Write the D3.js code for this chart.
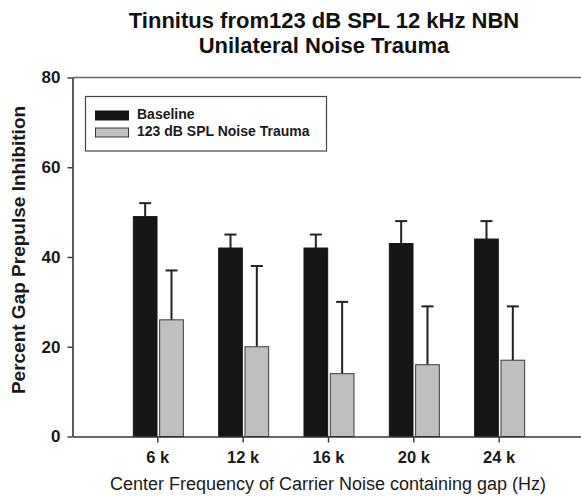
<!DOCTYPE html>
<html><head><meta charset="utf-8">
<script src="https://cdn.jsdelivr.net/npm/d3@7"></script>
<style>
html,body{margin:0;padding:0;background:#fff;}
svg{display:block;font-family:"Liberation Sans",Arial,sans-serif;}
</style></head>
<body><svg id="c" width="581" height="498"></svg>
<script>
const categories = ["6 k","12 k","16 k","20 k","24 k"];
const seriesNames = ["Baseline","123 dB SPL Noise Trauma"];
const baselineMean = [49,42,42,43,44];
const baselineErr  = [52,45,45,48,48];
const traumaMean   = [26,20,14,16,17];
const traumaErr    = [37,38,30,29,29];
const yTicks = [0,20,40,60,80];
const titleLines = ["Tinnitus from123 dB SPL 12 kHz NBN","Unilateral Noise Trauma"];
const xLabel = "Center Frequency of Carrier Noise containing gap (Hz)";
const yLabel = "Percent Gap Prepulse Inhibition";

(function(){
const series = [
  {name: seriesNames[0], mean: baselineMean, err: baselineErr, fill:"#161616", stroke:"#161616"},
  {name: seriesNames[1], mean: traumaMean, err: traumaErr, fill:"#bfbfbf", stroke:"#3a3a3a"}
];

const svg = d3.select("#c");
const mLeft = 72.5, mTop = 77.5, mBottom = 436.5;
const x = d3.scaleBand().domain(categories).range([mLeft, mLeft + 85.33*6]).paddingInner(0).paddingOuter(0.5);
const x1 = d3.scaleBand().domain(seriesNames).range([-24.5, 25.5]).paddingInner(0.1);
const y = d3.scaleLinear().domain([0,80]).range([mBottom, mTop]);

// top frame line
svg.append("line").attr("x1", mLeft).attr("x2", 581).attr("y1", mTop).attr("y2", mTop)
  .attr("stroke","#666").attr("stroke-width",1.6);

// bars
series.forEach(s => {
  const g = svg.append("g");
  categories.forEach((c,i) => {
    const cx = x(c) + x.bandwidth()/2;
    const bx = cx + x1(s.name);
    const bw = x1.bandwidth();
    const ex = bx + bw/2;
    g.append("line").attr("x1",ex).attr("x2",ex).attr("y1",y(s.mean[i])).attr("y2",y(s.err[i]))
      .attr("stroke","#222").attr("stroke-width",2);
    g.append("line").attr("x1",ex-6).attr("x2",ex+6).attr("y1",y(s.err[i])).attr("y2",y(s.err[i]))
      .attr("stroke","#222").attr("stroke-width",2);
    g.append("rect").attr("x",bx).attr("y",y(s.mean[i])).attr("width",bw).attr("height",y(0)-y(s.mean[i]))
      .attr("fill",s.fill).attr("stroke",s.stroke).attr("stroke-width",1);
  });
});

// axes
const yAxis = svg.append("g").attr("transform",`translate(${mLeft},0)`)
  .call(d3.axisLeft(y).tickValues(yTicks).tickSize(5).tickPadding(7).tickSizeOuter(0));
yAxis.select(".domain").attr("stroke","#333").attr("stroke-width",1.6);
yAxis.selectAll(".tick line").attr("stroke","#333").attr("stroke-width",1.4);
yAxis.selectAll("text").attr("font-size",17).attr("font-weight","bold").attr("fill","#1a1a1a")
  .attr("font-family","'Liberation Sans',Arial,sans-serif");

const xAxis = svg.append("g").attr("transform",`translate(0,${mBottom})`)
  .call(d3.axisBottom(x).tickSize(6).tickSizeOuter(0));
xAxis.select(".domain").attr("stroke","#333").attr("stroke-width",1.6);
xAxis.selectAll(".tick line").attr("stroke","#333").attr("stroke-width",1.4);
xAxis.selectAll("text").attr("dy",null).attr("y",26).attr("font-size",16.5).attr("font-weight","bold")
  .attr("fill","#1a1a1a").attr("font-family","'Liberation Sans',Arial,sans-serif");

// title
svg.append("text").attr("x",324).attr("text-anchor","middle").attr("font-weight","bold")
  .attr("font-size",22).attr("fill","#111")
  .selectAll("tspan").data(titleLines).join("tspan")
  .attr("x",324).attr("y",(d,i)=>28+i*25).text(d=>d);

// axis labels
svg.append("text").attr("x",328).attr("y",490).attr("text-anchor","middle")
  .attr("font-size",18).attr("fill","#1a1a1a").text(xLabel);
svg.append("text").attr("transform","translate(25,250) rotate(-90)").attr("text-anchor","middle")
  .attr("font-size",19).attr("font-weight","bold").attr("fill","#1a1a1a").text(yLabel);

// legend
const lg = svg.append("g");
lg.append("rect").attr("x",85.5).attr("y",96.5).attr("width",241).attr("height",54.5)
  .attr("fill","#fff").attr("stroke","#444").attr("stroke-width",1.2);
series.forEach((s,i) => {
  lg.append("rect").attr("x",95.5).attr("y",111+i*17).attr("width",33).attr("height",9)
    .attr("fill",s.fill).attr("stroke",s.stroke).attr("stroke-width",1);
  lg.append("text").attr("x",137).attr("y",118.5+i*17.5).attr("font-size",14).attr("font-weight","bold")
    .attr("fill","#1a1a1a").text(s.name);
});
})();
</script></body></html>
